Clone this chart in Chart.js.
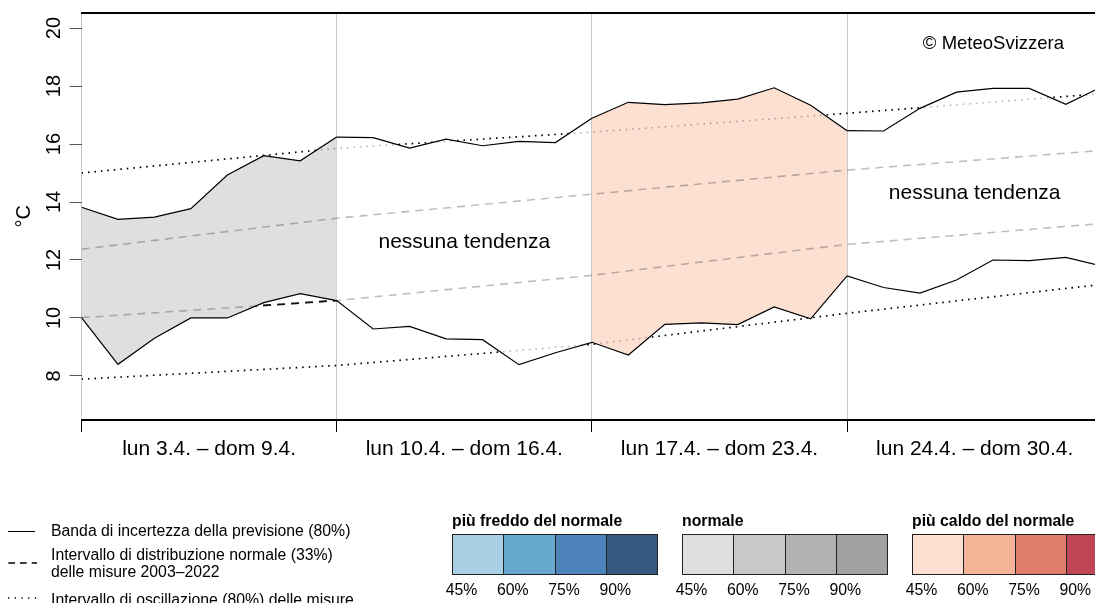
<!DOCTYPE html>
<html>
<head>
<meta charset="utf-8">
<script src="https://cdn.jsdelivr.net/npm/chart.js@4.4.1/dist/chart.umd.min.js"></script>
<style>
  html, body { margin: 0; padding: 0; background: #fff; }
  body { width: 1095px; height: 603px; overflow: hidden; position: relative; font-family: "Liberation Sans", Arial, sans-serif; }
  #wrap { position: absolute; left: 0; top: 0; width: 1095px; height: 603px; }
  .t { position: absolute; font-size: 15.8px; line-height: 18px; white-space: nowrap; color: #000; }
  .b { font-weight: bold; }
  .c { transform: translateX(-50%); }
  .box { position: absolute; top: 534px; height: 41px; width: 52.25px; box-sizing: border-box; border: 1px solid #222; }
</style>
</head>
<body>
<div id="wrap"><canvas id="meteo" width="1095" height="603"></canvas></div>

<svg style="position:absolute;left:0;top:520px" width="45" height="83">
  <line x1="8" x2="35" y1="11.5" y2="11.5" stroke="#000" stroke-width="1"/>
  <line x1="8.3" x2="37" y1="43" y2="43" stroke="#000" stroke-width="1.5" stroke-dasharray="6.7 5"/>
  <line x1="8" x2="37" y1="78" y2="78" stroke="#000" stroke-width="1.3" stroke-dasharray="1.3 5.4"/>
</svg>
<div class="t" style="left:51px;top:521.5px">Banda di incertezza della previsione (80%)</div>
<div class="t" style="left:51px;top:545.5px">Intervallo di distribuzione normale (33%)</div>
<div class="t" style="left:51px;top:562.5px">delle misure 2003–2022</div>
<div class="t" style="left:51px;top:590.5px">Intervallo di oscillazione (80%) delle misure</div>
<div id="scale"></div>

<script>
// giorni 3.4. - 30.4. (indice 0 = lun 3.4.)
const dayIndex = [0,1,2,3,4,5,6,7,8,9,10,11,12,13,14,15,16,17,18,19,20,21,22,23,24,25,26,27,28];
const upperBand = [13.82,13.40,13.48,13.77,14.93,15.60,15.42,16.24,16.22,15.86,16.17,15.94,16.09,16.05,
                   16.89,17.44,17.36,17.42,17.55,17.94,17.34,16.46,16.45,17.23,17.79,17.92,17.92,17.37,17.98];
const lowerBand = [10.01,8.40,9.30,10.00,10.00,10.53,10.84,10.60,9.62,9.71,9.28,9.25,8.39,8.80,
                   9.16,8.72,9.78,9.83,9.77,10.38,9.97,11.45,11.05,10.86,11.31,12.00,11.98,12.09,11.79];

// climatologia 2003-2022
const refDays = [0,7,14,21,28];
const osc90 = [15.00,15.85,16.41,17.06,17.74];
const osc10 = [7.89,8.36,9.09,10.16,11.16];
const norm67 = [12.37,13.44,14.27,15.10,15.78];
const norm33 = [10.01,10.60,11.47,12.54,13.26];

const weekLabels = ['lun 3.4. – dom 9.4.', 'lun 10.4. – dom 16.4.', 'lun 17.4. – dom 23.4.', 'lun 24.4. – dom 30.4.'];
const weekTicks = [0,3.5,7,10.5,14,17.5,21,24.5];
const weekFill = ['#dfdfdf', null, '#fce0d1', null];
const yTicks = [8,10,12,14,16,18,20];
const noteWeeks = [1,3];
const noteY = [12.63,14.3];

// legenda colori
const groupTitles = ['più freddo del normale', 'normale', 'più caldo del normale'];
const groupColors = [
  ['#a7d0e4','#67a9cf','#4c83bb','#365a80'],
  ['#dfdfdf','#c8c8c8','#b3b3b3','#a1a1a1'],
  ['#fde0d1','#f5b497','#e07d6d','#c04656']
];
const pctLabels = ['45%','60%','75%','90%'];

const family = '"Liberation Sans", Arial, sans-serif';

function pts(xs, ys) { return ys.map((v, i) => ({x: xs[i], y: v})); }

// linee nere solo fuori dalla banda
const outsideClip = {
  id: 'outsideClip',
  beforeDatasetDraw(chart, args) {
    const ds = chart.data.datasets[args.index];
    if (!ds.outside) return;
    const ctx = chart.ctx, a = chart.chartArea;
    const up = chart.getDatasetMeta(0).data, lo = chart.getDatasetMeta(1).data;
    ctx.save();
    ctx.beginPath();
    ctx.rect(a.left, a.top, a.right - a.left, a.bottom - a.top);
    ctx.moveTo(up[0].x, up[0].y);
    up.forEach(p => ctx.lineTo(p.x, p.y));
    for (let i = lo.length - 1; i >= 0; i--) ctx.lineTo(lo[i].x, lo[i].y);
    ctx.closePath();
    ctx.clip('evenodd');
  },
  afterDatasetDraw(chart, args) {
    if (chart.data.datasets[args.index].outside) chart.ctx.restore();
  }
};

const notes = {
  id: 'notes',
  afterDatasetsDraw(chart) {
    const {ctx, chartArea, scales: {x, y}} = chart;
    ctx.save();
    ctx.fillStyle = '#000';
    ctx.textAlign = 'center';
    ctx.textBaseline = 'middle';
    ctx.font = '21px ' + family;
    noteWeeks.forEach((w, i) => {
      ctx.fillText('nessuna tendenza', x.getPixelForValue(w * 7 + 3.5), y.getPixelForValue(noteY[i]));
    });
    ctx.font = '18.5px ' + family;
    ctx.textAlign = 'right';
    ctx.fillText('© MeteoSvizzera', chartArea.right - 31, chartArea.top + 31);
    ctx.restore();
  }
};

function noPad(s) { s.paddingTop = 0; s.paddingBottom = 0; s.paddingLeft = 0; s.paddingRight = 0; }

const ctx = document.getElementById('meteo').getContext('2d');
const chart = new Chart(ctx, {
  type: 'line',
  data: {
    datasets: [
      {
        label: 'upper', data: pts(dayIndex, upperBand),
        borderColor: '#000', borderWidth: 1.2, pointRadius: 0, tension: 0,
        backgroundColor: 'rgba(0,0,0,0)', fill: '+1',
        segment: { backgroundColor: c => weekFill[Math.floor(c.p0DataIndex / 7)] || 'rgba(0,0,0,0)' }
      },
      { label: 'lower', data: pts(dayIndex, lowerBand), borderColor: '#000', borderWidth: 1.2, pointRadius: 0, tension: 0, fill: false },
      // tratti neri fuori dalla banda
      { outside: true, data: pts(refDays, osc90), borderColor: '#000', borderWidth: 1.6, borderDash: [1.5, 5], pointRadius: 0, fill: false },
      { outside: true, data: pts(refDays, osc10), borderColor: '#000', borderWidth: 1.6, borderDash: [1.5, 5], pointRadius: 0, fill: false },
      { outside: true, data: pts(refDays, norm67), borderColor: '#111', borderWidth: 1.8, borderDash: [8, 6], pointRadius: 0, fill: false },
      { outside: true, data: pts(refDays, norm33), borderColor: '#111', borderWidth: 1.8, borderDash: [8, 6], pointRadius: 0, fill: false },
      // linee grigie
      { data: pts(refDays, osc90), borderColor: 'rgba(0,0,0,0.3)', borderWidth: 1.6, borderDash: [1.5, 5], pointRadius: 0, fill: false },
      { data: pts(refDays, osc10), borderColor: 'rgba(0,0,0,0.3)', borderWidth: 1.6, borderDash: [1.5, 5], pointRadius: 0, fill: false },
      { data: pts(refDays, norm67), borderColor: 'rgba(0,0,0,0.25)', borderWidth: 1.6, borderDash: [8, 6], pointRadius: 0, fill: false },
      { data: pts(refDays, norm33), borderColor: 'rgba(0,0,0,0.25)', borderWidth: 1.6, borderDash: [8, 6], pointRadius: 0, fill: false }
    ]
  },
  options: {
    responsive: false,
    devicePixelRatio: 1,
    animation: false,
    layout: { padding: 0 },
    plugins: {
      legend: { display: false },
      tooltip: { enabled: false },
      filler: { drawTime: 'beforeDatasetsDraw' }
    },
    scales: {
      x: {
        type: 'linear', position: 'bottom', min: 0, max: 27.8,
        afterBuildTicks: s => { s.ticks = weekTicks.map(v => ({value: v})); },
        afterFit: s => { s.height = 183; noPad(s); },
        ticks: {
          autoSkip: false, maxRotation: 0, minRotation: 0, padding: 5, color: '#000',
          font: { size: 21, family: family },
          callback: v => (v % 7 === 3.5 ? weekLabels[Math.floor(v / 7)] : '')
        },
        grid: {
          drawOnChartArea: true, tickLength: 12, lineWidth: 1,
          color: c => (c.tick && c.tick.value % 7 === 0 ? '#c8c8c8' : 'rgba(0,0,0,0)'),
          tickColor: c => (c.tick && c.tick.value % 7 === 0 ? '#000' : 'rgba(0,0,0,0)')
        },
        border: { display: true, color: '#000', width: 2 }
      },
      xTop: {
        type: 'linear', position: 'top', min: 0, max: 27.8,
        afterFit: s => { s.height = 12.7; noPad(s); },
        ticks: { display: false },
        grid: { display: false, drawTicks: false },
        border: { display: true, color: '#000', width: 2 }
      },
      y: {
        type: 'linear', position: 'left', min: 6.48, max: 20.53,
        afterBuildTicks: s => { s.ticks = yTicks.map(v => ({value: v})); },
        afterFit: s => { s.width = 81.5; noPad(s); },
        ticks: { minRotation: 90, maxRotation: 90, crossAlign: 'center', padding: 4, color: '#000', font: { size: 20, family: family } },
        grid: { drawOnChartArea: false, tickLength: 12, color: '#555', tickColor: '#555' },
        border: { display: false },
        title: { display: true, text: '°C', color: '#000', font: { size: 20, family: family }, padding: { top: 12, bottom: 0 } }
      }
    }
  },
  plugins: [outsideClip, notes]
});

// legenda scala colori
const lefts = [452, 682, 912];
const holder = document.getElementById('scale');
groupTitles.forEach((title, g) => {
  const left = lefts[g];
  const t = document.createElement('div');
  t.className = 't b';
  t.style.left = left + 'px';
  t.style.top = '511.5px';
  t.textContent = title;
  holder.appendChild(t);
  groupColors[g].forEach((col, k) => {
    const b = document.createElement('div');
    b.className = 'box';
    b.style.left = (left + k * 51.25) + 'px';
    b.style.background = col;
    holder.appendChild(b);
    const p = document.createElement('div');
    p.className = 't c';
    p.style.left = (left + k * 51.25 + 9.5) + 'px';
    p.style.top = '580.5px';
    p.textContent = pctLabels[k];
    holder.appendChild(p);
  });
});
</script>
</body>
</html>
